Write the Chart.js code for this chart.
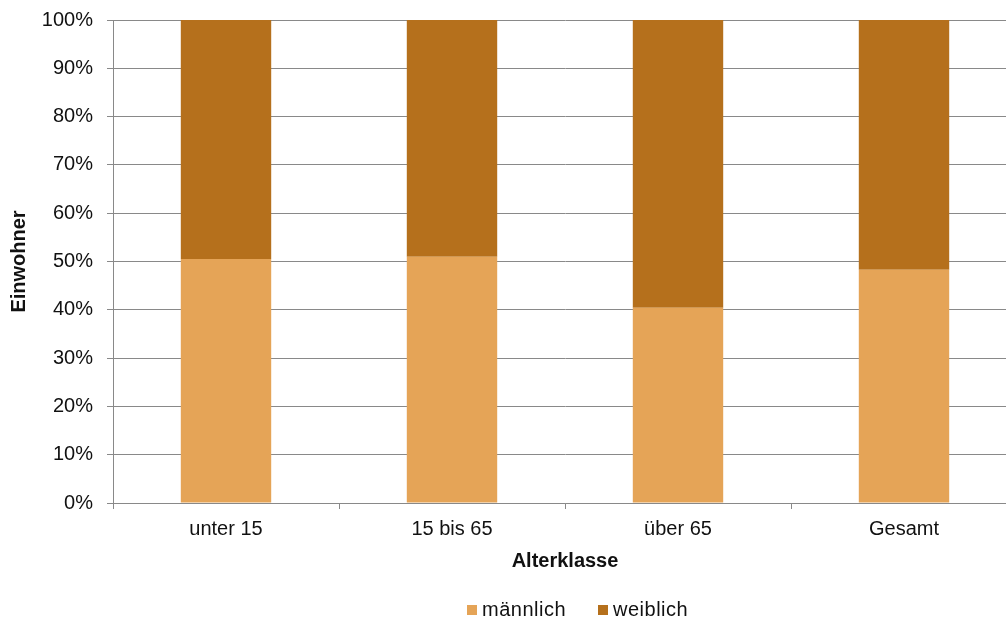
<!DOCTYPE html>
<html lang="de">
<head>
<meta charset="utf-8">
<script src="https://cdn.jsdelivr.net/npm/chart.js@4"></script>
<style>
  html, body { margin: 0; padding: 0; background: #fff; }
  #wrap { position: relative; width: 1006px; height: 621px; overflow: hidden; }
  #chart { position: absolute; left: 0; top: 0; }
  #legend {
    position: absolute; left: 467px; top: 598px;
    font: 20px "Liberation Sans", Arial, sans-serif; color: #111;
    letter-spacing: 0.5px;
    display: flex; align-items: center; white-space: nowrap;
  }
  #legend span.box { display: inline-block; width: 10px; height: 10px; margin-right: 5px; }
  #legend span.item { display: inline-flex; align-items: center; margin-right: 32px; }
</style>
</head>
<body>
<div id="wrap">
  <canvas id="chart" width="1020" height="621"></canvas>
  <div id="legend"></div>
</div>
<script>
const categories = ["unter 15", "15 bis 65", "über 65", "Gesamt"];
const maennlich = [50.5, 51.0, 40.4, 48.3];
const weiblich = [49.5, 49.0, 59.6, 51.7];
const seriesNames = ["männlich", "weiblich"];
const seriesColors = ["#e5a457", "#b5701c"];

const font = "'Liberation Sans', Arial, sans-serif";
const textColor = "#111";
const lineColor = "#898989";

const ctx = document.getElementById("chart").getContext("2d");

new Chart(ctx, {
  type: "bar",
  data: {
    labels: categories,
    datasets: [
      { label: seriesNames[0], data: maennlich, backgroundColor: seriesColors[0] },
      { label: seriesNames[1], data: weiblich, backgroundColor: seriesColors[1] },
    ],
  },
  options: {
    responsive: false,
    animation: false,
    devicePixelRatio: 1,
    layout: { padding: { top: 20, right: 3, bottom: 44, left: 0 } },
    datasets: { bar: { barPercentage: 1, categoryPercentage: 0.4 } },
    plugins: {
      legend: { display: false },
      tooltip: { enabled: false },
    },
    scales: {
      x: {
        stacked: true,
        offset: true,
        grid: {
          offset: true,
          drawOnChartArea: false,
          drawTicks: true,
          tickLength: 6,
          color: lineColor,
        },
        border: { color: lineColor, width: 1 },
        ticks: { color: textColor, font: { family: font, size: 20 }, padding: 8, maxRotation: 0 },
        title: {
          display: true,
          text: "Alterklasse",
          color: textColor,
          font: { family: font, size: 20, weight: "bold" },
          padding: { top: 4, bottom: 4 },
        },
        afterFit: (scale) => { scale.height = 74; },
      },
      y: {
        stacked: true,
        min: 0,
        max: 100,
        grid: { color: lineColor, tickLength: 6, lineWidth: 1 },
        border: { color: lineColor, width: 1 },
        ticks: {
          stepSize: 10,
          color: textColor,
          font: { family: font, size: 20 },
          padding: 14,
          callback: (v) => v + "%",
        },
        title: {
          display: true,
          text: "Einwohner",
          color: textColor,
          font: { family: font, size: 20, weight: "bold" },
          padding: { top: 7, bottom: 4 },
        },
        afterFit: (scale) => {
          scale.width = 113;
          // the top label may overhang the plot; layout padding handles it
          scale.paddingTop = 0;
          scale.paddingBottom = 0;
        },
      },
    },
  },
});

// legend drawn as plain HTML below the axis title
const legend = document.getElementById("legend");
seriesNames.forEach((name, i) => {
  const item = document.createElement("span");
  item.className = "item";
  const box = document.createElement("span");
  box.className = "box";
  box.style.background = seriesColors[i];
  item.appendChild(box);
  item.appendChild(document.createTextNode(name));
  legend.appendChild(item);
});
</script>
</body>
</html>
